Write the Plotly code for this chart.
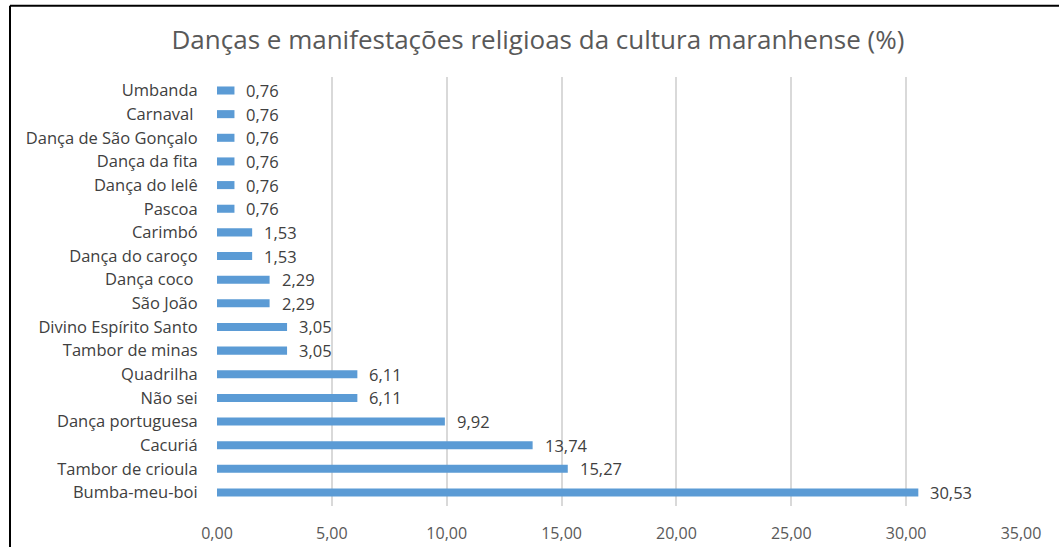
import plotly.graph_objects as go

categories = ["Bumba-meu-boi", "Tambor de crioula", "Cacuriá", "Dança portuguesa",
              "Não sei", "Quadrilha", "Tambor de minas", "Divino Espírito Santo",
              "São João", "Dança coco ", "Dança do caroço", "Carimbó", "Pascoa",
              "Dança do lelê", "Dança da fita", "Dança de São Gonçalo", "Carnaval ", "Umbanda"]
values = [30.53, 15.27, 13.74, 9.92, 6.11, 6.11, 3.05, 3.05, 2.29, 2.29,
          1.53, 1.53, 0.76, 0.76, 0.76, 0.76, 0.76, 0.76]
x_ticks = [0, 5, 10, 15, 20, 25, 30, 35]

FONT = "Open Sans"
fig = go.Figure()
fig.add_trace(go.Bar(
    x=values, y=categories, orientation="h",
    marker=dict(color="#5b9bd5", line=dict(width=0)),
    width=0.34,
))

for v, c in zip(values, categories):
    fig.add_annotation(x=v, y=c, text=f"{v:.2f}".replace(".", ","),
                       xanchor="left", yanchor="middle", xshift=10, showarrow=False,
                       font=dict(family=FONT, size=16.5, color="#404040"))

# chart frame: only top and left edges are visible in the reference
bx = (10 - 217) / 804
ty = (505 - 7) / 427
fig.add_shape(type="line", xref="paper", yref="paper", x0=bx, x1=2, y0=ty, y1=ty,
              line=dict(color="#000000", width=2), layer="below")
fig.add_shape(type="line", xref="paper", yref="paper", x0=bx, x1=bx, y0=-1, y1=ty,
              line=dict(color="#000000", width=2), layer="below")

fig.update_layout(
    width=1059, height=547,
    margin=dict(l=217, r=38, t=77, b=41, autoexpand=False),
    paper_bgcolor="white", plot_bgcolor="white",
    separators=",.",
    showlegend=False,
    title=dict(text="Danças e manifestações religioas da cultura maranhense (%)",
               x=0.508, xanchor="center", y=0.927, yanchor="middle", xref="container",
               font=dict(family=FONT, size=26, color="#595959")),
    xaxis=dict(range=[0, 35], tickvals=x_ticks, tickformat=".2f", automargin=False,
               showgrid=True, gridcolor="#d9d9d9", gridwidth=2, zeroline=False,
               ticks="outside", ticklen=13, tickcolor="rgba(0,0,0,0)",
               tickfont=dict(family=FONT, size=16, color="#595959"), showline=False),
    yaxis=dict(showgrid=False, zeroline=False, showline=False, automargin=False,
               ticks="outside", ticklen=15, tickcolor="rgba(0,0,0,0)",
               tickfont=dict(family=FONT, size=16.5, color="#404040")),
)
fig.write_html("out.html", config={"displayModeBar": False},
               post_script="document.body.style.margin='0';document.body.style.overflow='hidden';")
